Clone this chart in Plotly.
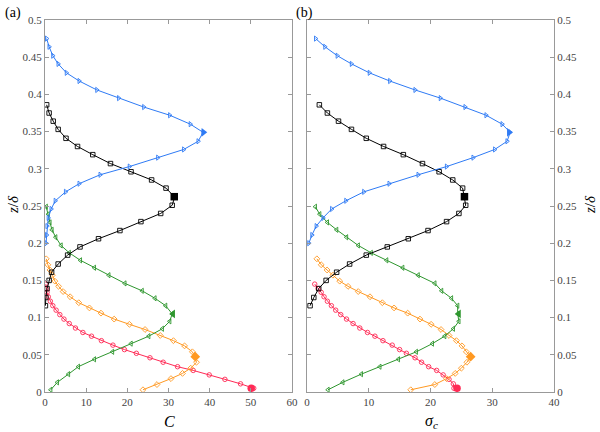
import plotly.graph_objects as go

# --- Data ---
# z/delta positions for each profile
z_red = [0.005, 0.011, 0.017, 0.023, 0.029, 0.034, 0.040, 0.046, 0.052, 0.057, 0.063, 0.069, 0.075,
         0.080, 0.086, 0.092, 0.098, 0.104, 0.110, 0.116, 0.122, 0.128, 0.134, 0.139, 0.145]
z_orange = [0.003, 0.010, 0.018, 0.025, 0.032, 0.040, 0.047, 0.054, 0.062, 0.069, 0.076, 0.084, 0.091,
            0.098, 0.106, 0.113, 0.120, 0.128, 0.135, 0.142, 0.149, 0.157, 0.164, 0.171, 0.179]
z_green = [0.003, 0.013, 0.024, 0.034, 0.044, 0.054, 0.065, 0.075, 0.085, 0.095, 0.105, 0.116, 0.126,
           0.136, 0.146, 0.157, 0.167, 0.177, 0.187, 0.197, 0.208, 0.218, 0.228, 0.239, 0.249]
z_black = [0.116, 0.127, 0.139, 0.150, 0.161, 0.172, 0.184, 0.195, 0.206, 0.217, 0.229, 0.240, 0.251,
           0.262, 0.274, 0.285, 0.296, 0.307, 0.319, 0.330, 0.341, 0.353, 0.364, 0.375, 0.386]
z_blue = [0.200, 0.211, 0.223, 0.234, 0.246, 0.257, 0.269, 0.280, 0.292, 0.303, 0.315, 0.326, 0.337,
          0.349, 0.360, 0.372, 0.383, 0.395, 0.406, 0.418, 0.429, 0.441, 0.452, 0.464, 0.475]

# panel (a): C
C_red = [50.7, 47.5, 43.7, 39.9, 36.0, 32.2, 28.7, 25.5, 22.2, 19.3, 16.5, 13.7, 11.3,
         9.2, 7.4, 5.9, 4.6, 3.6, 2.7, 1.9, 1.3, 0.8, 0.5, 0.3, 0.2]
C_orange = [23.8, 27.2, 30.6, 33.4, 35.4, 36.8, 36.4, 35.8, 33.9, 31.2, 28.0, 24.3, 20.5,
            16.8, 13.6, 10.8, 8.2, 6.1, 4.4, 3.3, 2.4, 1.8, 1.2, 0.7, 0.3]
C_green = [1.4, 3.0, 5.7, 8.1, 12.0, 16.4, 20.9, 25.2, 28.5, 30.3, 30.9, 29.3, 26.7,
           23.6, 19.4, 15.5, 12.0, 8.6, 5.9, 3.9, 2.6, 1.7, 1.2, 0.8, 0.3]
C_black = [0.1, 0.2, 0.5, 1.0, 1.6, 3.2, 5.5, 8.5, 13.0, 18.2, 23.3, 28.1, 30.9,
           31.5, 29.4, 25.9, 20.9, 15.9, 11.6, 7.9, 5.1, 3.2, 2.0, 1.0, 0.4]
C_blue = [0.25, 0.4, 0.5, 0.8, 1.5, 2.5, 5.0, 8.3, 13.4, 20.5, 27.4, 33.7, 37.2,
          38.4, 35.3, 30.3, 24.0, 17.9, 12.6, 8.3, 5.2, 3.2, 1.9, 1.0, 0.4]

# panel (b): sigma_c
S_red = [23.8, 23.7, 23.0, 22.05, 21.0, 19.7, 18.55, 17.5, 16.1, 15.0, 13.8, 12.3, 11.0,
         9.8, 8.55, 7.46, 6.4, 5.46, 4.65, 3.95, 3.3, 2.76, 2.3, 1.8, 1.25]
S_orange = [16.8, 20.7, 22.6, 24.0, 25.0, 25.9, 26.5, 25.8, 25.1, 24.2, 23.0, 21.7, 20.1,
            18.3, 16.3, 14.1, 12.2, 10.2, 8.3, 6.65, 5.3, 4.2, 3.25, 2.3, 1.6]
S_green = [3.4, 5.8, 8.8, 11.8, 14.8, 17.7, 20.3, 22.3, 23.7, 24.6, 24.4, 24.4, 23.4,
           21.8, 20.7, 18.0, 15.5, 12.9, 10.4, 8.3, 6.4, 4.8, 3.3, 2.06, 1.35]
S_black = [0.5, 1.1, 1.9, 3.1, 4.8, 6.9, 9.6, 13.0, 16.4, 19.6, 22.6, 24.6, 25.7,
           25.5, 25.2, 23.6, 21.4, 18.7, 15.6, 12.4, 9.6, 7.2, 5.1, 3.3, 2.0]
S_blue = [0.3, 0.8, 1.5, 2.6, 4.0, 6.3, 9.2, 13.3, 18.0, 22.6, 26.9, 30.4, 32.4,
          32.9, 31.6, 29.0, 25.6, 21.6, 17.5, 13.4, 10.1, 7.2, 4.9, 2.9, 1.4]

# filled markers (peak of each profile): red, orange, green, black, blue
peak_z = [0.005, 0.0475, 0.105, 0.2625, 0.349]
peak_C = [50.1, 36.5, 31.1, 31.4, 38.5]
peak_S = [24.3, 26.5, 24.6, 25.5, 32.7]

x_ticks_a = [0, 10, 20, 30, 40, 50, 60]
x_ticks_b = [0, 10, 20, 30, 40]
z_ticks = [0, 0.05, 0.1, 0.15, 0.2, 0.25, 0.3, 0.35, 0.4, 0.45, 0.5]
z_labels = ['0', '0.05', '0.1', '0.15', '0.2', '0.25', '0.3', '0.35', '0.4', '0.45', '0.5']

# --- Styling ---
FONT = 'Liberation Serif, Times New Roman, serif'
W, H = 600, 432

series = [
    ('red', '#FF2A55', 'circle-open', 'circle', z_red, C_red, S_red),
    ('orange', '#FF9922', 'diamond-open', 'diamond', z_orange, C_orange, S_orange),
    ('green', '#2E962E', 'triangle-left-open', 'triangle-left', z_green, C_green, S_green),
    ('black', '#000000', 'square-open', 'square', z_black, C_black, S_black),
    ('blue', '#2F7BF5', 'triangle-right-open', 'triangle-right', z_blue, C_blue, S_blue),
]

fig = go.Figure()

for i, (name, color, sym_open, sym_fill, zs, cs, ss) in enumerate(series):
    for xs, pk, xa, ya in [(cs, peak_C, 'x', 'y'), (ss, peak_S, 'x2', 'y2')]:
        fig.add_trace(go.Scatter(
            x=xs, y=zs, mode='lines+markers', name=name,
            line=dict(color=color, width=1),
            marker=dict(symbol=sym_open, size=4.5, color=color, line=dict(width=0.9, color=color)),
            xaxis=xa, yaxis=ya, showlegend=False))
        fig.add_trace(go.Scatter(
            x=[pk[i]], y=[peak_z[i]], mode='markers',
            marker=dict(symbol=sym_fill, size=7.5, color=color),
            xaxis=xa, yaxis=ya, showlegend=False))

axis_common = dict(
    showgrid=False, zeroline=False, showline=True, linecolor='#999999', linewidth=1,
    ticks='inside', ticklen=4, tickcolor='#999999', mirror='ticks', automargin=False,
    tickfont=dict(family=FONT, size=11, color='#444444'),
)


def px_x(x):
    return x / W


def px_y(y):
    return 1 - y / H


# axis titles and panel labels as paper annotations (pixel positions from the reference)
def label(text, x, y, size, angle=0):
    return dict(text=text, x=px_x(x), y=px_y(y), xref='paper', yref='paper',
                xanchor='center', yanchor='middle', showarrow=False, textangle=angle,
                font=dict(family=FONT, size=size, color='#000000'))


fig.update_layout(
    width=W, height=H,
    margin=dict(l=0, r=0, t=0, b=0),
    paper_bgcolor='white', plot_bgcolor='white',
    font=dict(family=FONT, color='#000000'),
    xaxis=dict(domain=[px_x(45), px_x(292)], range=[0, 60], tickvals=x_ticks_a, anchor='y', **axis_common),
    yaxis=dict(domain=[px_y(392), px_y(20)], range=[0, 0.5], tickvals=z_ticks, ticktext=z_labels,
               anchor='x', **axis_common),
    xaxis2=dict(domain=[px_x(307), px_x(554)], range=[0, 40], tickvals=x_ticks_b, anchor='y2', **axis_common),
    yaxis2=dict(domain=[px_y(392), px_y(20)], range=[0, 0.5], tickvals=z_ticks, ticktext=z_labels,
                anchor='x2', side='right', **axis_common),
    annotations=[
        label('<i>C</i>', 169, 421, 16),
        label('<i>σ<sub>c</sub></i>', 431, 421, 16),
        label('<i>z</i>/<i>δ</i>', 13, 205, 15, -90),
        label('<i>z</i>/<i>δ</i>', 590, 205, 15, -90),
        label('(a)', 13, 13, 14),
        label('(b)', 304, 13, 14),
    ],
)

# drop the default 8px body margin so the figure fills the window
fig.write_html("out.html", config={'displayModeBar': False},
               post_script="document.body.style.margin = '0';")
